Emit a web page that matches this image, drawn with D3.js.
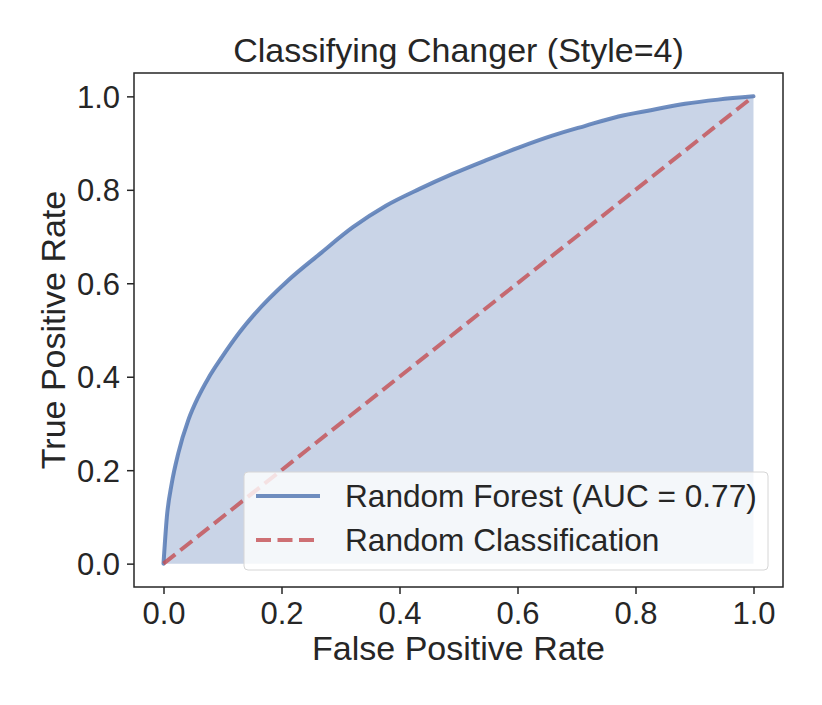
<!DOCTYPE html>
<html>
<head>
<meta charset="utf-8">
<script src="https://d3js.org/d3.v7.min.js"></script>
<style>
  body { margin: 0; background: #fff; }
  text { font-family: "Liberation Sans", Arial, sans-serif; fill: #262626; }
</style>
</head>
<body>
<div id="chart"></div>
<script>
// ROC curve
let fpr = [0, 0.0057, 0.014, 0.025, 0.042, 0.059, 0.076, 0.099, 0.127, 0.155, 0.211, 0.265,
           0.321, 0.377, 0.434, 0.490, 0.546, 0.603, 0.659, 0.715, 0.771, 0.828, 0.884, 0.940, 1];
let tpr = [0, 0.10, 0.172, 0.236, 0.307, 0.357, 0.397, 0.442, 0.492, 0.535, 0.606, 0.663,
           0.720, 0.766, 0.802, 0.834, 0.863, 0.891, 0.916, 0.937, 0.957, 0.971, 0.984, 0.993, 1];
let diagonal = [0, 1];
let ticks = [0, 0.2, 0.4, 0.6, 0.8, 1.0];
let legendLabels = ["Random Forest (AUC = 0.77)", "Random Classification"];

let svgWidth = 822;
let svgHeight = 705;

let margin = { top: 73, right: 39, bottom: 118, left: 134 };
let width = svgWidth - margin.left - margin.right;
let height = svgHeight - margin.top - margin.bottom;

let svg = d3.select("#chart")
  .append("svg")
  .attr("width", svgWidth)
  .attr("height", svgHeight);

let chartGroup = svg.append("g")
  .attr("transform", `translate(${margin.left}, ${margin.top})`);

let x = d3.scaleLinear().domain([-0.05, 1.05]).range([0, width]);
let y = d3.scaleLinear().domain([-0.05, 1.05]).range([height, 0]);

let roc = fpr.map((f, i) => [f, tpr[i]]);

// filled area under the curve
chartGroup.append("path")
  .datum(roc)
  .attr("fill", "#4c72b0")
  .attr("fill-opacity", 0.3)
  .attr("d", d3.area().curve(d3.curveMonotoneX).x(d => x(d[0])).y0(y(0)).y1(d => y(d[1])));

chartGroup.append("path")
  .datum(roc)
  .attr("fill", "none")
  .attr("stroke", "#4c72b0")
  .attr("stroke-opacity", 0.8)
  .attr("stroke-width", 4)
  .attr("stroke-linejoin", "round")
  .attr("stroke-linecap", "round")
  .attr("d", d3.line().curve(d3.curveMonotoneX).x(d => x(d[0])).y(d => y(d[1])));

chartGroup.append("path")
  .datum(diagonal)
  .attr("fill", "none")
  .attr("stroke", "#c44e52")
  .attr("stroke-opacity", 0.8)
  .attr("stroke-width", 4)
  .attr("stroke-dasharray", "15,6.5")
  .attr("d", d3.line().x(d => x(d)).y(d => y(d)));

// axes
let bottomAxis = d3.axisBottom(x).tickValues(ticks).tickFormat(d3.format(".1f")).tickSize(7).tickPadding(8);
let leftAxis = d3.axisLeft(y).tickValues(ticks).tickFormat(d3.format(".1f")).tickSize(7).tickPadding(7);

let gx = chartGroup.append("g")
  .attr("transform", `translate(0, ${height})`)
  .call(bottomAxis);
let gy = chartGroup.append("g").call(leftAxis);

[gx, gy].forEach(g => {
  g.select(".domain").remove();
  g.selectAll("line").attr("stroke", "#262626").attr("stroke-width", 1.5);
  g.selectAll("text").style("font-size", "31px").attr("fill", "#262626");
});
gy.selectAll("text").attr("dy", "0.36em");

// frame
chartGroup.append("rect")
  .attr("width", width)
  .attr("height", height)
  .attr("fill", "none")
  .attr("stroke", "#262626")
  .attr("stroke-width", 1.5);

// legend
let legend = chartGroup.append("g")
  .attr("transform", `translate(${244 - margin.left}, ${472 - margin.top})`);

legend.append("rect")
  .attr("width", 524)
  .attr("height", 98)
  .attr("rx", 4)
  .attr("fill", "#ffffff")
  .attr("fill-opacity", 0.8)
  .attr("stroke", "#d6d6d6")
  .attr("stroke-width", 1);

let rows = legend.selectAll(".row")
  .data(legendLabels)
  .enter()
  .append("g")
  .attr("transform", (d, i) => `translate(0, ${24 + i * 44})`);

rows.append("line")
  .attr("x1", 12)
  .attr("x2", 76)
  .attr("stroke", (d, i) => i === 0 ? "#4c72b0" : "#c44e52")
  .attr("stroke-opacity", 0.8)
  .attr("stroke-width", 4)
  .attr("stroke-dasharray", (d, i) => i === 0 ? null : "15,6.5");

rows.append("text")
  .attr("x", 101)
  .attr("dy", "0.36em")
  .style("font-size", "31.6px")
  .text(d => d);

// title and axis labels
svg.append("text")
  .attr("x", margin.left + width / 2)
  .attr("y", 62)
  .attr("text-anchor", "middle")
  .style("font-size", "34px")
  .text("Classifying Changer (Style=4)");

svg.append("text")
  .attr("x", margin.left + width / 2)
  .attr("y", 660)
  .attr("text-anchor", "middle")
  .style("font-size", "34px")
  .text("False Positive Rate");

svg.append("text")
  .attr("transform", `translate(65, ${margin.top + height / 2}) rotate(-90)`)
  .attr("text-anchor", "middle")
  .style("font-size", "34px")
  .text("True Positive Rate");
</script>
</body>
</html>
